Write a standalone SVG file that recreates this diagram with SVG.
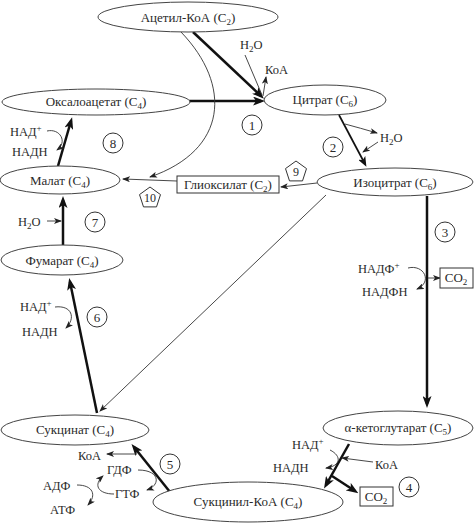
<svg xmlns="http://www.w3.org/2000/svg" width="474" height="531" viewBox="0 0 474 531" font-family="'Liberation Serif', 'DejaVu Serif', serif">
<defs>
<style>
text, tspan{font-family:'Liberation Serif','DejaVu Serif',serif;fill:#2a2a2a}
.n{font-size:13px;text-anchor:middle}
.s{font-size:12.5px}
.sub{font-size:9px}
.el{fill:#fff;stroke:#444;stroke-width:1}
.thick{fill:none;stroke:#111;stroke-width:2.5;marker-end:url(#ah)}
.mid{fill:none;stroke:#111;stroke-width:1.7;marker-end:url(#am)}
.thin{fill:none;stroke:#333;stroke-width:0.9;marker-end:url(#at)}
.line{fill:none;stroke:#333;stroke-width:0.9}
.circ{fill:#fff;stroke:#333;stroke-width:1}
.box{fill:#fff;stroke:#333;stroke-width:1}
</style>
<marker id="ah" viewBox="0 0 12 9" refX="8" refY="4.5" markerWidth="12" markerHeight="9" markerUnits="userSpaceOnUse" orient="auto"><path d="M0,0 L12,4.5 L0,9 L3,4.5z" fill="#111"/></marker>
<marker id="am" viewBox="0 0 10 8" refX="7" refY="4" markerWidth="10" markerHeight="8" markerUnits="userSpaceOnUse" orient="auto"><path d="M0,0 L10,4 L0,8 L2.5,4z" fill="#111"/></marker>
<marker id="at" viewBox="0 0 8 6" refX="7" refY="3" markerWidth="8" markerHeight="6" markerUnits="userSpaceOnUse" orient="auto"><path d="M0,0 L8,3 L0,6 L2,3z" fill="#222"/></marker>
<polygon id="pent" points="0,-11 10.5,-3.4 6.5,8.9 -6.5,8.9 -10.5,-3.4" fill="#fff" stroke="#333" stroke-width="1"/>
</defs>

<g id="connectors">
<path class="thick" d="M193,32 L261,96"/>
<path class="thick" d="M189,101 L261,101"/>
<path class="line" d="M245,55 L262,95"/>
<path class="thin" d="M263,96 L266,77"/>
<path class="thin" d="M181,32 C232,85 228,150 150,177"/>
<path class="thin" d="M177,181 L123,179"/>
<path class="thin" d="M317,183 L281,187"/>
<path class="thin" d="M326,195 L100,411"/>
<path class="mid" d="M339,115 L365,164"/>
<path class="thin" d="M345,124 Q360,128 377,133"/>
<path class="thin" d="M378,142 L363,152"/>
<path class="thick" d="M427,196 L427,404"/>
<path class="thin" d="M408,268 C424,264 433,282 417,289"/>
<path class="thin" d="M428,278 L440,278"/>
<path class="thick" d="M349,444 L326,485"/>
<path class="thick" d="M332,476 L355,491"/>
<path class="thin" d="M330,450 C342,456 341,466 326,468"/>
<path class="thin" d="M373,462 L342,458"/>
<path class="thick" d="M170,492 L134,447"/>
<path class="thin" d="M137,454 L107,454"/>
<path class="thin" d="M138,470 C160,470 161,485 147,490"/>
<path class="thin" d="M77,485 C93,485 97,495 88,505"/>
<path class="thin" d="M114,494 C98,494 93,485 103,476"/>
<path class="thick" d="M97,413 L70,282"/>
<path class="thin" d="M55,307 C72,305 76,318 66,328"/>
<path class="thick" d="M63,245 L63,200"/>
<path class="thin" d="M47,221 L61,221"/>
<path class="thick" d="M58,166 L71,121"/>
<path class="thin" d="M47,131 C60,128 68,142 57,150"/>
</g>

<g id="acetylcoa"><ellipse class="el" cx="188" cy="17" rx="90" ry="15"/><text class="n" x="188" y="22">Ацетил-КоА (C<tspan class="sub" dy="3">2</tspan><tspan dy="-3">)</tspan></text></g>
<g id="oxaloacetate"><ellipse class="el" cx="96" cy="102" rx="94" ry="13"/><text class="n" x="96" y="106">Оксалоацетат (C<tspan class="sub" dy="3">4</tspan><tspan dy="-3">)</tspan></text></g>
<g id="citrate"><ellipse class="el" cx="325" cy="100" rx="61" ry="15"/><text class="n" x="325" y="104">Цитрат (C<tspan class="sub" dy="3">6</tspan><tspan dy="-3">)</tspan></text></g>
<g id="isocitrate"><ellipse class="el" cx="395" cy="182" rx="78" ry="14"/><text class="n" x="395" y="187">Изоцитрат (C<tspan class="sub" dy="3">6</tspan><tspan dy="-3">)</tspan></text></g>
<g id="malate"><ellipse class="el" cx="60" cy="180" rx="60" ry="14"/><text class="n" x="60" y="185">Малат (C<tspan class="sub" dy="3">4</tspan><tspan dy="-3">)</tspan></text></g>
<g id="glyoxylate"><rect class="box" x="177" y="176" width="102" height="17"/><text class="n" x="228" y="189">Глиоксилат (C<tspan class="sub" dy="3">2</tspan><tspan dy="-3">)</tspan></text></g>
<g id="fumarate"><ellipse class="el" cx="62" cy="260" rx="61" ry="15"/><text class="n" x="62" y="265">Фумарат (C<tspan class="sub" dy="3">4</tspan><tspan dy="-3">)</tspan></text></g>
<g id="succinate"><ellipse class="el" cx="75" cy="430" rx="74" ry="15"/><text class="n" x="75" y="434">Сукцинат (C<tspan class="sub" dy="3">4</tspan><tspan dy="-3">)</tspan></text></g>
<g id="akg"><ellipse class="el" cx="398" cy="428" rx="75" ry="17"/><text class="n" x="398" y="432">α-кетоглутарат (C<tspan class="sub" dy="3">5</tspan><tspan dy="-3">)</tspan></text></g>
<g id="succinylcoa"><ellipse class="el" cx="248" cy="502" rx="95" ry="20"/><text class="n" x="248" y="506">Сукцинил-КоА (C<tspan class="sub" dy="3">4</tspan><tspan dy="-3">)</tspan></text></g>

<g id="co2a"><rect class="box" x="440" y="268" width="33" height="20"/><text class="n" x="456" y="282">CO<tspan class="sub" dy="3">2</tspan></text></g>
<g id="co2b"><rect class="box" x="360" y="487" width="33" height="19"/><text class="n" x="376" y="501">CO<tspan class="sub" dy="3">2</tspan></text></g>

<g id="labels">
<text class="s" x="240" y="49">H<tspan class="sub" dy="3">2</tspan><tspan dy="-3">O</tspan></text>
<text class="s" x="265" y="74">КоА</text>
<text class="s" x="380" y="142">H<tspan class="sub" dy="3">2</tspan><tspan dy="-3">O</tspan></text>
<text class="s" x="358" y="273">НАДФ<tspan class="sub" dy="-5">+</tspan></text>
<text class="s" x="362" y="296">НАДФН</text>
<text class="s" x="10" y="136">НАД<tspan class="sub" dy="-5">+</tspan></text>
<text class="s" x="12" y="156">НАДН</text>
<text class="s" x="18" y="226">H<tspan class="sub" dy="3">2</tspan><tspan dy="-3">O</tspan></text>
<text class="s" x="20" y="311">НАД<tspan class="sub" dy="-5">+</tspan></text>
<text class="s" x="22" y="336">НАДН</text>
<text class="s" x="78" y="460">КоА</text>
<text class="s" x="107" y="474">ГДФ</text>
<text class="s" x="115" y="498">ГТФ</text>
<text class="s" x="43" y="490">АДФ</text>
<text class="s" x="50" y="514">АТФ</text>
<text class="s" x="292" y="449">НАД<tspan class="sub" dy="-5">+</tspan></text>
<text class="s" x="273" y="472">НАДН</text>
<text class="s" x="375" y="469">КоА</text>
</g>

<g id="steps">
<circle class="circ" cx="252" cy="125" r="10"/><text class="n" x="252" y="130">1</text>
<circle class="circ" cx="333" cy="147" r="10"/><text class="n" x="333" y="152">2</text>
<circle class="circ" cx="445" cy="232" r="10"/><text class="n" x="445" y="237">3</text>
<circle class="circ" cx="409" cy="487" r="10"/><text class="n" x="409" y="492">4</text>
<circle class="circ" cx="170" cy="464" r="10"/><text class="n" x="170" y="469">5</text>
<circle class="circ" cx="97" cy="317" r="10"/><text class="n" x="97" y="322">6</text>
<circle class="circ" cx="95" cy="222" r="10"/><text class="n" x="95" y="227">7</text>
<circle class="circ" cx="113" cy="143" r="10"/><text class="n" x="113" y="148">8</text>
<use href="#pent" x="296" y="172"/><text class="n" x="296" y="176" style="font-size:12px">9</text>
<use href="#pent" x="150" y="198"/><text class="n" x="150" y="202" style="font-size:12px">10</text>
</g>
</svg>
